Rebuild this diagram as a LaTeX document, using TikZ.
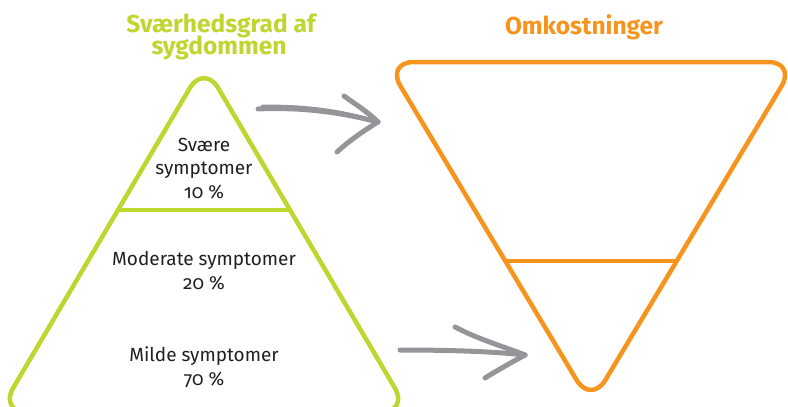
\documentclass[tikz,border=0pt]{standalone}
\usepackage{fontspec}
\setmainfont{Fira Sans}[Numbers=OldStyle]
\definecolor{lime}{HTML}{BED62F}
\definecolor{orng}{HTML}{F7941D}
\definecolor{arrowgray}{HTML}{939598}
\definecolor{txt}{HTML}{231F20}
\begin{document}
\begin{tikzpicture}[x=1pt,y=-1pt,
  lbl/.style={font=\fontsize{19}{23.5}\selectfont, text=txt, align=center, inner sep=0pt, anchor=base},
  ttl/.style={font=\bfseries\fontsize{24.5}{22}\selectfont, inner sep=0pt, anchor=base},
  tri/.style={line width=4.5pt, rounded corners=28pt, line join=round},
  sk/.style={draw=arrowgray, line width=5pt, line cap=round, line join=round},
  skt/.style={draw=arrowgray, line width=2.5pt, line cap=round}]
\useasboundingbox (0,0) rectangle (788,407);
% green pyramid
\draw[tri, draw=lime] (204,412) -- (409,412) -- (204,64) -- (-1,412) -- cycle;
\draw[draw=lime, line width=4.5pt] (117,210) -- (291,210);
% orange inverted triangle
\draw[tri, draw=orng] (591,62) -- (796,62) -- (591,404) -- (386,62) -- cycle;
\draw[draw=orng, line width=4.5pt] (507,261) -- (676,261);
% titles
\node[ttl, text=lime] (t1a) at (221,32) {Sværhedsgrad af};
\node[ttl, text=lime] (t1b) at (219,54) {sygdommen};
\node[ttl, text=orng] (t2) at (584,34) {Omkostninger};
% labels
\node[lbl] (l1) at (204,198) {Svære\\symptomer\\10 \%};
\node[lbl] (l2) at (204,289) {Moderate symptomer\\20 \%};
\node[lbl] (l3) at (204,385) {Milde symptomer\\70 \%};
% arrow 1
\coordinate (a1s) at (258,109);
\coordinate (a1e) at (378,122);
\coordinate (a1u) at (344,96);
\coordinate (a1l) at (337,152);
\draw[sk] (a1s) .. controls (300,107) and (340,112) .. (a1e);
\draw[skt] (262,106) .. controls (300,105) and (345,110) .. (a1e);
\draw[sk] (a1u) .. controls (355,104) and (368,112) .. (a1e);
\draw[skt] (350,101) -- (a1e);
\draw[sk] (a1l) .. controls (350,140) and (365,130) .. (a1e);
% arrow 2
\coordinate (a2s) at (400,350);
\coordinate (a2e) at (525,355);
\coordinate (a2u) at (455,327);
\coordinate (a2l) at (485,378);
\draw[sk] (a2s) .. controls (440,350) and (490,351) .. (a2e);
\draw[sk] (a2u) .. controls (480,340) and (505,347) .. (a2e);
\draw[sk] (a2l) .. controls (498,370) and (512,362) .. (a2e);
\end{tikzpicture}
\end{document}
